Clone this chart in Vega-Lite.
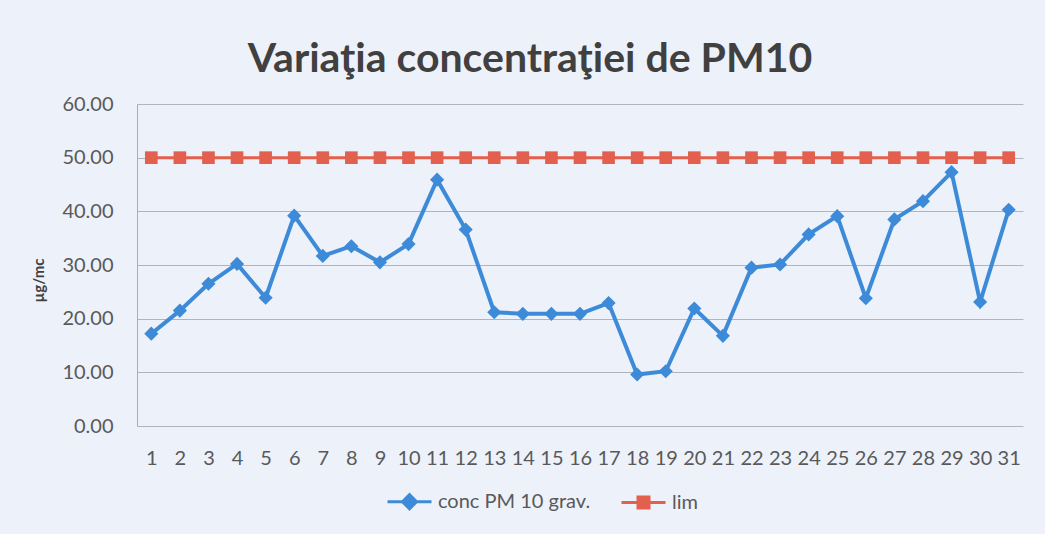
{
  "$schema": "https://vega.github.io/schema/vega-lite/v6.json",
  "autosize": {"type": "none"},
  "width": 886,
  "height": 322,
  "padding": {"left": 137, "top": 104, "right": 22, "bottom": 108},
  "background": "#edf1f9",
  "title": {
    "text": "Variaţia concentraţiei de PM10",
    "font": "Lato",
    "fontSize": 41,
    "fontWeight": "bold",
    "color": "#404040",
    "anchor": "middle",
    "baseline": "alphabetic",
    "offset": 28,
    "dx": -50,
    "dy": 47
  },
  "data": {
    "values": [
      {"day": 1, "series": "conc PM 10 grav.", "value": 17.2},
      {"day": 2, "series": "conc PM 10 grav.", "value": 21.5},
      {"day": 3, "series": "conc PM 10 grav.", "value": 26.5},
      {"day": 4, "series": "conc PM 10 grav.", "value": 30.2},
      {"day": 5, "series": "conc PM 10 grav.", "value": 23.9},
      {"day": 6, "series": "conc PM 10 grav.", "value": 39.2},
      {"day": 7, "series": "conc PM 10 grav.", "value": 31.7},
      {"day": 8, "series": "conc PM 10 grav.", "value": 33.5},
      {"day": 9, "series": "conc PM 10 grav.", "value": 30.5},
      {"day": 10, "series": "conc PM 10 grav.", "value": 33.9},
      {"day": 11, "series": "conc PM 10 grav.", "value": 45.9},
      {"day": 12, "series": "conc PM 10 grav.", "value": 36.6},
      {"day": 13, "series": "conc PM 10 grav.", "value": 21.2},
      {"day": 14, "series": "conc PM 10 grav.", "value": 20.9},
      {"day": 15, "series": "conc PM 10 grav.", "value": 20.9},
      {"day": 16, "series": "conc PM 10 grav.", "value": 20.9},
      {"day": 17, "series": "conc PM 10 grav.", "value": 22.9},
      {"day": 18, "series": "conc PM 10 grav.", "value": 9.6},
      {"day": 19, "series": "conc PM 10 grav.", "value": 10.2},
      {"day": 20, "series": "conc PM 10 grav.", "value": 21.9},
      {"day": 21, "series": "conc PM 10 grav.", "value": 16.8},
      {"day": 22, "series": "conc PM 10 grav.", "value": 29.5},
      {"day": 23, "series": "conc PM 10 grav.", "value": 30.1},
      {"day": 24, "series": "conc PM 10 grav.", "value": 35.7},
      {"day": 25, "series": "conc PM 10 grav.", "value": 39.1},
      {"day": 26, "series": "conc PM 10 grav.", "value": 23.8},
      {"day": 27, "series": "conc PM 10 grav.", "value": 38.5},
      {"day": 28, "series": "conc PM 10 grav.", "value": 41.9},
      {"day": 29, "series": "conc PM 10 grav.", "value": 47.3},
      {"day": 30, "series": "conc PM 10 grav.", "value": 23.1},
      {"day": 31, "series": "conc PM 10 grav.", "value": 40.3},
      {"day": 1, "series": "lim", "value": 50},
      {"day": 2, "series": "lim", "value": 50},
      {"day": 3, "series": "lim", "value": 50},
      {"day": 4, "series": "lim", "value": 50},
      {"day": 5, "series": "lim", "value": 50},
      {"day": 6, "series": "lim", "value": 50},
      {"day": 7, "series": "lim", "value": 50},
      {"day": 8, "series": "lim", "value": 50},
      {"day": 9, "series": "lim", "value": 50},
      {"day": 10, "series": "lim", "value": 50},
      {"day": 11, "series": "lim", "value": 50},
      {"day": 12, "series": "lim", "value": 50},
      {"day": 13, "series": "lim", "value": 50},
      {"day": 14, "series": "lim", "value": 50},
      {"day": 15, "series": "lim", "value": 50},
      {"day": 16, "series": "lim", "value": 50},
      {"day": 17, "series": "lim", "value": 50},
      {"day": 18, "series": "lim", "value": 50},
      {"day": 19, "series": "lim", "value": 50},
      {"day": 20, "series": "lim", "value": 50},
      {"day": 21, "series": "lim", "value": 50},
      {"day": 22, "series": "lim", "value": 50},
      {"day": 23, "series": "lim", "value": 50},
      {"day": 24, "series": "lim", "value": 50},
      {"day": 25, "series": "lim", "value": 50},
      {"day": 26, "series": "lim", "value": 50},
      {"day": 27, "series": "lim", "value": 50},
      {"day": 28, "series": "lim", "value": 50},
      {"day": 29, "series": "lim", "value": 50},
      {"day": 30, "series": "lim", "value": 50},
      {"day": 31, "series": "lim", "value": 50}
    ]
  },
  "encoding": {
    "x": {
      "field": "day",
      "type": "ordinal",
      "scale": {"type": "point", "padding": 0.5},
      "axis": {
        "title": null,
        "labelAngle": 0,
        "labelFont": "Lato",
        "labelFontSize": 20,
        "labelColor": "#595959",
        "labelPadding": 22,
        "ticks": false,
        "tickSize": 0,
        "domain": false,
        "grid": false
      }
    },
    "y": {
      "field": "value",
      "type": "quantitative",
      "scale": {"domain": [0, 60], "nice": false},
      "axis": {
        "title": "µg/mc",
        "titleFont": "Lato",
        "titleFontSize": 15,
        "titleFontWeight": "bold",
        "titleColor": "#404040",
        "titleAngle": -90,
        "titleAlign": "center",
        "titleBaseline": "middle",
        "titleX": -99,
        "titleY": 176,
        "values": [0, 10, 20, 30, 40, 50, 60],
        "format": ".2f",
        "labelFont": "Lato",
        "labelFontSize": 20,
        "labelColor": "#595959",
        "labelPadding": 24,
        "ticks": false,
        "tickSize": 0,
        "domain": true,
        "domainColor": "#a8acb4",
        "grid": true,
        "gridColor": "#b0b4bc",
        "gridWidth": 1
      }
    }
  },
  "layer": [
    {
      "mark": {"type": "point", "filled": true, "size": 0, "opacity": 1},
      "encoding": {
        "fill": {
          "field": "series",
          "type": "nominal",
          "scale": {"domain": ["conc PM 10 grav.", "lim"], "range": ["#3d8bd8", "#e2604d"]},
          "legend": {"title": null, "orient": "none", "direction": "horizontal", "legendX": 249, "legendY": 374}
        },
        "stroke": {
          "field": "series",
          "type": "nominal",
          "scale": {"domain": ["conc PM 10 grav.", "lim"], "range": ["#3d8bd8", "#e2604d"]},
          "legend": {"title": null, "orient": "none", "direction": "horizontal", "legendX": 249, "legendY": 374}
        },
        "shape": {
          "field": "series",
          "type": "nominal",
          "scale": {"domain": ["conc PM 10 grav.", "lim"], "range": ["M-1,0H1M-0.32,0L0,-0.32L0.32,0L0,0.32Z", "M-1,0H1M-0.25,-0.25H0.25V0.25H-0.25Z"]},
          "legend": {"title": null, "orient": "none", "direction": "horizontal", "legendX": 249, "legendY": 374}
        }
      }
    },
    {
      "transform": [{"filter": "datum.series === 'lim'"}],
      "mark": {"type": "line", "strokeWidth": 3, "color": "#e2604d"}
    },
    {
      "transform": [{"filter": "datum.series === 'conc PM 10 grav.'"}],
      "mark": {"type": "line", "strokeWidth": 4, "color": "#3d8bd8"}
    },
    {
      "transform": [{"filter": "datum.series === 'conc PM 10 grav.'"}],
      "mark": {"type": "point", "shape": "diamond", "filled": true, "opacity": 1, "size": 200, "color": "#3d8bd8"}
    },
    {
      "transform": [{"filter": "datum.series === 'lim'"}],
      "mark": {"type": "point", "shape": "square", "filled": true, "opacity": 1, "size": 160, "color": "#e2604d"}
    }
  ],
  "config": {
    "view": {"stroke": null},
    "legend": {
      "padding": 0,
      "symbolSize": 1936,
      "symbolStrokeWidth": 3,
      "symbolOpacity": 1,
      "labelFont": "Lato",
      "labelFontSize": 20,
      "labelColor": "#595959",
      "labelOffset": 5,
      "columnPadding": 24
    }
  }
}
